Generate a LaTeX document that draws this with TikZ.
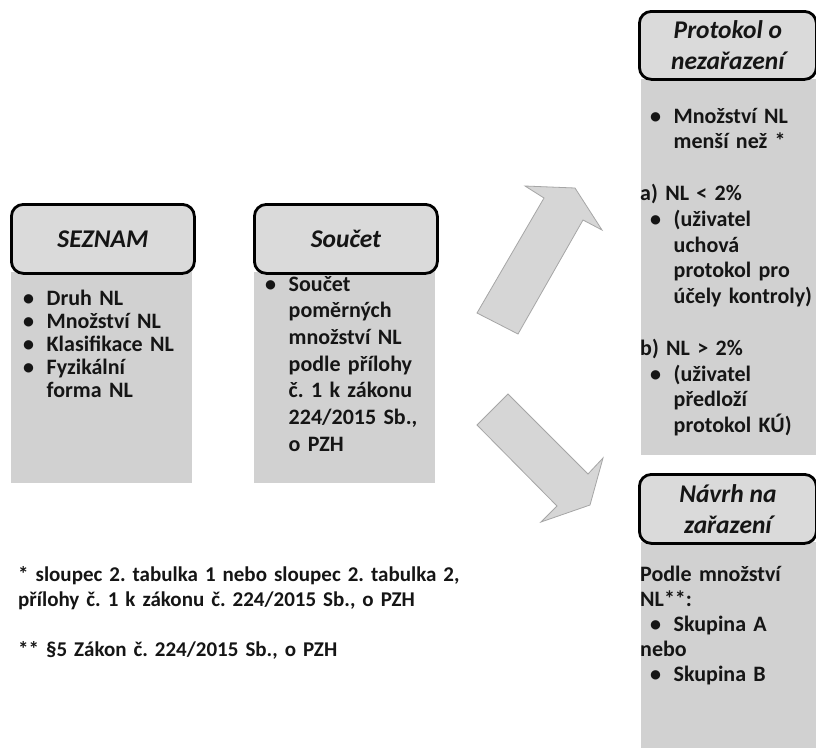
\documentclass[tikz,border=0pt]{standalone}
\usepackage{fontspec}
\setmainfont{Carlito}
\frenchspacing
\begin{document}
\begin{tikzpicture}[x=1pt,y=-1pt,
  headbox/.style={draw=black, line width=2.8pt, rounded corners=12pt, fill=headgray,
     inner sep=0pt, anchor=north west, align=center, font=\fontsize{25.5}{31}\selectfont\bfseries\itshape, text=txt},
  bodybox/.style={fill=bodygray, draw=none, inner sep=0pt, anchor=north west},
  bodytext/.style={inner sep=0pt, anchor=base west, text width=600pt, align=left, text=txt},
  blockarrow/.style={fill=arrowgray, draw=arrowline, line width=0.8pt, line join=miter}]
\definecolor{headgray}{HTML}{DADADA}
\definecolor{bodygray}{HTML}{D1D1D1}
\definecolor{arrowgray}{HTML}{D6D6D6}
\definecolor{arrowline}{HTML}{A6A6A6}
\definecolor{txt}{HTML}{151515}
\newcommand\bl{\makebox[23.5pt][l]{•}}
\newcommand\ind{\hspace*{23.5pt}}
\useasboundingbox (0,0) rectangle (816,747);
\fill[white] (0,0) rectangle (816,747);

% SEZNAM
\node[bodybox, minimum width=181pt, minimum height=211pt] (seznamBody) at (11,272) {};
\node[headbox, minimum width=183pt, minimum height=69pt] (seznamHead) at (10,203) {SEZNAM};
\node[bodytext, font=\fontsize{22}{23}\selectfont\bfseries] (seznamText) at (23,305)
  {\bl Druh NL\\ \bl Množství NL\\ \bl Klasifikace NL\\ \bl Fyzikální\\ \ind forma NL};

% Soucet
\node[bodybox, minimum width=181pt, minimum height=211pt] (soucetBody) at (254,272) {};
\node[headbox, minimum width=183pt, minimum height=69pt] (soucetHead) at (253,203) {Součet};
\node[bodytext, font=\fontsize{22}{26.7}\selectfont\bfseries] (soucetText) at (265,291)
  {\bl Součet\\ \ind poměrných\\ \ind množství NL\\ \ind podle přílohy\\ \ind č. 1 k zákonu\\ \ind 224/2015 Sb.,\\ \ind o PZH};

% Protokol o nezarazeni
\node[bodybox, minimum width=176pt, minimum height=376pt] (protBody) at (641,79) {};
\node[headbox, minimum width=177pt, minimum height=68pt] (protHead) at (638,10) {Protokol o\\ nezařazení};
\node[bodytext, font=\fontsize{22}{25.8}\selectfont\bfseries] (protText) at (640,123)
  {\hspace*{10pt}\bl Množství NL\\ \hspace*{10pt}\ind menší než *\\ \mbox{}\\
   a) NL < 2\%\\ \hspace*{10pt}\bl (uživatel\\ \hspace*{10pt}\ind uchová\\ \hspace*{10pt}\ind protokol pro\\ \hspace*{10pt}\ind účely kontroly)\\ \mbox{}\\
   b) NL > 2\%\\ \hspace*{10pt}\bl (uživatel\\ \hspace*{10pt}\ind předloží\\ \hspace*{10pt}\ind protokol KÚ)};

% Navrh na zarazeni
\node[bodybox, minimum width=176pt, minimum height=206pt] (navBody) at (641,542) {};
\node[headbox, minimum width=177pt, minimum height=69pt] (navHead) at (638,473) {Návrh na\\ zařazení};
\node[bodytext, font=\fontsize{22}{25}\selectfont\bfseries] (navText) at (640,581)
  {Podle množství\\ NL**:\\ \hspace*{10pt}\bl Skupina A\\ nebo\\ \hspace*{10pt}\bl Skupina B};

% footnotes
\node[bodytext, font=\fontsize{21}{25}\selectfont\bfseries] (notes) at (18,581)
  {* sloupec 2. tabulka 1 nebo sloupec 2. tabulka 2,\\ přílohy č. 1 k zákonu č. 224/2015 Sb., o PZH\\ \mbox{}\\ \relax** §5 Zákon č. 224/2015 Sb., o PZH};

% block arrows
\draw[blockarrow] (477,313) -- (544,198) -- (525,186) -- (575,188) -- (602,230) -- (583,220) -- (518,334) -- cycle;
\draw[blockarrow] (508,394) -- (588,474) -- (603,458) -- (590,505) -- (541,522) -- (557,506) -- (477,425) -- cycle;
\end{tikzpicture}
\end{document}
